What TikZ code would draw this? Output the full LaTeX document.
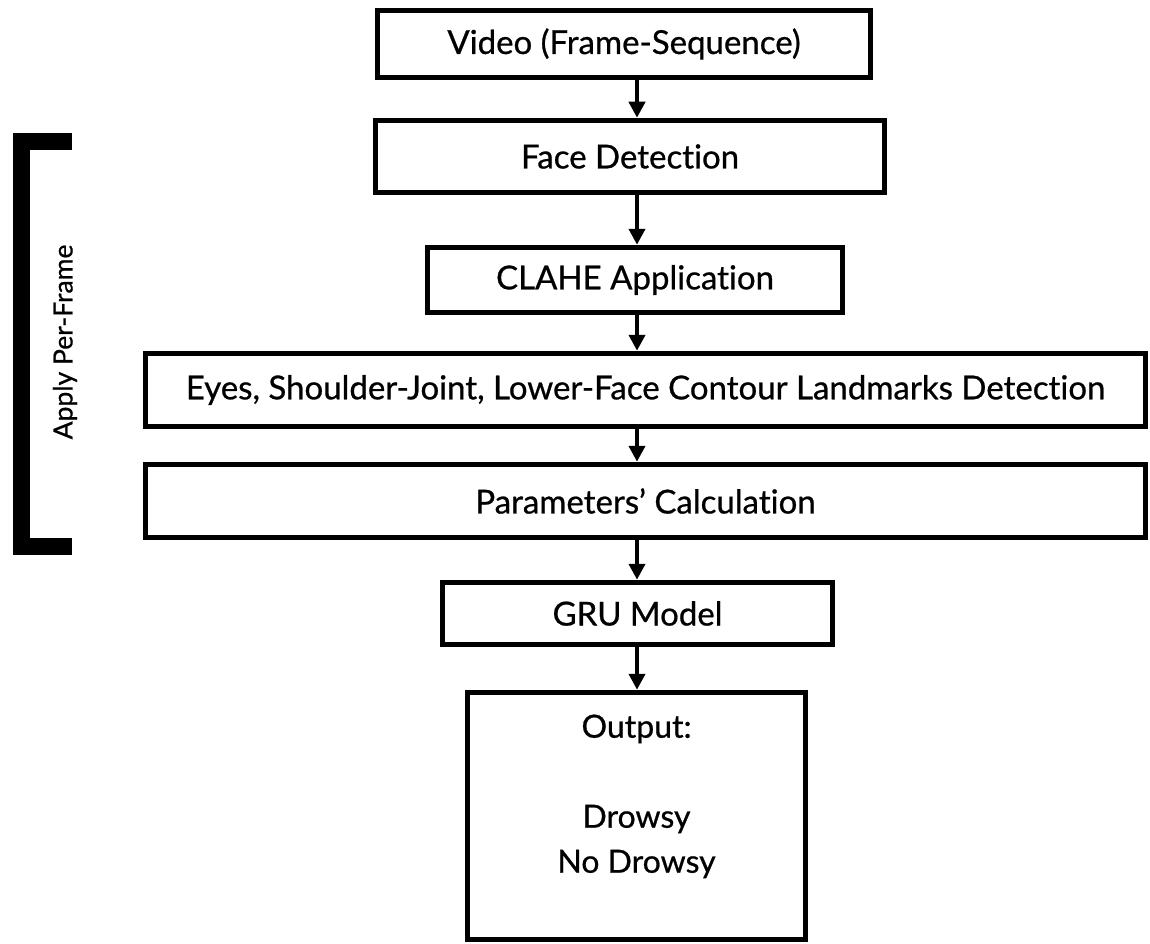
\documentclass[tikz,border=0pt]{standalone}
\usepackage{fontspec}
\setmainfont{Lato}[RawFeature=-liga, FakeBold=0.7]
\usetikzlibrary{arrows.meta}
\begin{document}
\begin{tikzpicture}[x=1pt,y=-1pt,
  box/.style={draw=black, line width=5.5pt, fill=white, inner sep=0pt, font=\fontsize{33}{38}\selectfont},
  arr/.style={line width=4pt, -{Triangle[length=16pt,width=16pt]}},
  brk/.style={line width=17pt, line join=miter}]
\useasboundingbox (0,0) rectangle (1150,944);
\coordinate (axis) at (637,0);
\node[box, minimum width=493pt, minimum height=67pt] (b1) at (624,44) {Video (Frame-Sequence)};
\node[box, minimum width=509pt, minimum height=72pt] (b2) at (630,156.5) {Face Detection};
\node[box, minimum width=415pt, minimum height=65pt] (b3) at (635,280) {CLAHE Application};
\node[box, minimum width=1000pt, minimum height=73pt] (b4) at (645.5,390) {Eyes, Shoulder-Joint, Lower-Face Contour Landmarks Detection};
\node[box, minimum width=1000pt, minimum height=73pt] (b5) at (645.5,501) {Parameters’ Calculation};
\node[box, minimum width=390pt, minimum height=62pt] (b6) at (637.5,613.5) {GRU Model};
\node[box, minimum width=338pt, minimum height=247pt] (b7) at (636.5,816) {};
\node[font=\fontsize{32}{45}\selectfont, align=center, anchor=north] (outtxt) at (636.5,711) {Output:\\[45pt]Drowsy\\No Drowsy};
\draw[arr] (b1.south -| axis) -- (b2.north -| axis);
\draw[arr] (b2.south -| axis) -- (b3.north -| axis);
\draw[arr] (b3.south -| axis) -- (b4.north -| axis);
\draw[arr] (b4.south -| axis) -- (b5.north -| axis);
\draw[arr] (b5.south -| axis) -- (b6.north -| axis);
\draw[arr] (b6.south -| axis) -- (b7.north -| axis);
\coordinate (btop) at (72,141.5);
\coordinate (bbot) at (72,546.5);
\draw[brk] (btop) -- (21,141.5) -- (21,546.5) -- (bbot);
\node[rotate=90, font=\fontsize{26.5}{30}\selectfont] (apf) at (65,342) {Apply Per-Frame};
\end{tikzpicture}
\end{document}
